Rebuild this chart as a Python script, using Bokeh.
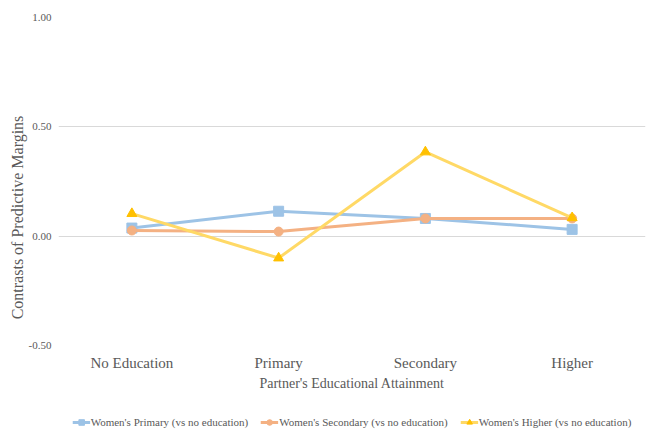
from bokeh.plotting import figure
from bokeh.layouts import column
from bokeh.models import Legend, LegendItem, FixedTicker, NumeralTickFormatter, Range1d
from bokeh.embed import file_html
from bokeh.resources import INLINE

categories = ["No Education", "Primary", "Secondary", "Higher"]
womens_primary = [0.037, 0.114, 0.081, 0.031]
womens_secondary = [0.026, 0.021, 0.081, 0.081]
womens_higher = [0.103, -0.100, 0.385, 0.084]
y_ticks = [-0.5, 0.0, 0.5, 1.0]

FONT = "Liberation Serif"
GREY = "#595959"

p = figure(width=651, height=405, x_range=categories, y_range=Range1d(-0.5, 1.0),
           output_backend="svg", toolbar_location=None,
           min_border_left=58, min_border_right=6, min_border_top=17, min_border_bottom=60)
p.outline_line_color = None
p.background_fill_color = "white"
p.border_fill_color = "white"

p.xgrid.grid_line_color = None
p.ygrid.grid_line_color = "#d9d9d9"
p.ygrid.grid_line_width = 1

p.yaxis.ticker = FixedTicker(ticks=y_ticks)
p.yaxis.formatter = NumeralTickFormatter(format="0.00")
p.yaxis.axis_line_color = None
p.yaxis.major_tick_line_color = None
p.yaxis.minor_tick_line_color = None
p.yaxis.major_tick_in = 0
p.yaxis.major_tick_out = 0
p.yaxis.major_label_text_font = FONT
p.yaxis.major_label_text_font_size = "11px"
p.yaxis.major_label_text_color = GREY
p.yaxis.major_label_standoff = 7
p.yaxis.axis_label = "Contrasts of Predictive Margins" + "\u00a0" * 18
p.yaxis.axis_label_text_font = FONT
p.yaxis.axis_label_text_font_style = "normal"
p.yaxis.axis_label_text_font_size = "16px"
p.yaxis.axis_label_text_color = GREY
p.yaxis.axis_label_standoff = 0

p.xaxis.axis_line_color = None
p.xaxis.major_tick_line_color = None
p.xaxis.minor_tick_line_color = None
p.xaxis.major_label_text_font = FONT
p.xaxis.major_label_text_font_size = "15px"
p.xaxis.major_label_text_color = GREY
p.xaxis.major_label_standoff = 3
p.xaxis.axis_label = "Partner's Educational Attainment"
p.xaxis.axis_label_text_font = FONT
p.xaxis.axis_label_text_font_style = "normal"
p.xaxis.axis_label_text_font_size = "14px"
p.xaxis.axis_label_text_color = GREY
p.xaxis.axis_label_standoff = 2

series = [
    ("Women's Primary (vs no education)", womens_primary, "#9dc3e6", "#9dc3e6", "square", 10),
    ("Women's Secondary (vs no education)", womens_secondary, "#f4b183", "#f4b183", "circle", 9),
    ("Women's Higher (vs no education)", womens_higher, "#ffd966", "#ffc000", "triangle", 10),
]

# legend strip below the chart (frame aligned with the main chart's frame)
lg = figure(width=651, height=33, x_range=Range1d(0, 1), y_range=Range1d(0, 1),
            x_axis_location=None, y_axis_location=None,
            output_backend="svg", toolbar_location=None,
            min_border_left=58, min_border_right=6, min_border_top=0, min_border_bottom=0)
lg.grid.visible = False
lg.outline_line_color = None

items = []
for name, vals, lc, mc, marker, size in series:
    p.line(categories, vals, line_color=lc, line_width=3)
    p.scatter(categories, vals, marker=marker, size=size, fill_color=mc, line_color=mc)
    l2 = lg.line(x=[-10, -9], y=[-10, -9], line_color=lc, line_width=3)
    m2 = lg.scatter(x=[-10], y=[-10], marker=marker, size=size - 2, fill_color=mc, line_color=mc)
    items.append(LegendItem(label=name, renderers=[l2, m2]))

legend = Legend(items=items, orientation="horizontal", location="center",
                label_text_font=FONT, label_text_font_size="11px", label_text_color=GREY,
                border_line_color=None, background_fill_alpha=0,
                glyph_width=18, glyph_height=14, label_standoff=1, spacing=12,
                padding=2, margin=0, label_height=14)
lg.add_layout(legend, "center")

layout = column(p, lg, spacing=0)
open("out.html", "w").write(file_html(layout, INLINE))
